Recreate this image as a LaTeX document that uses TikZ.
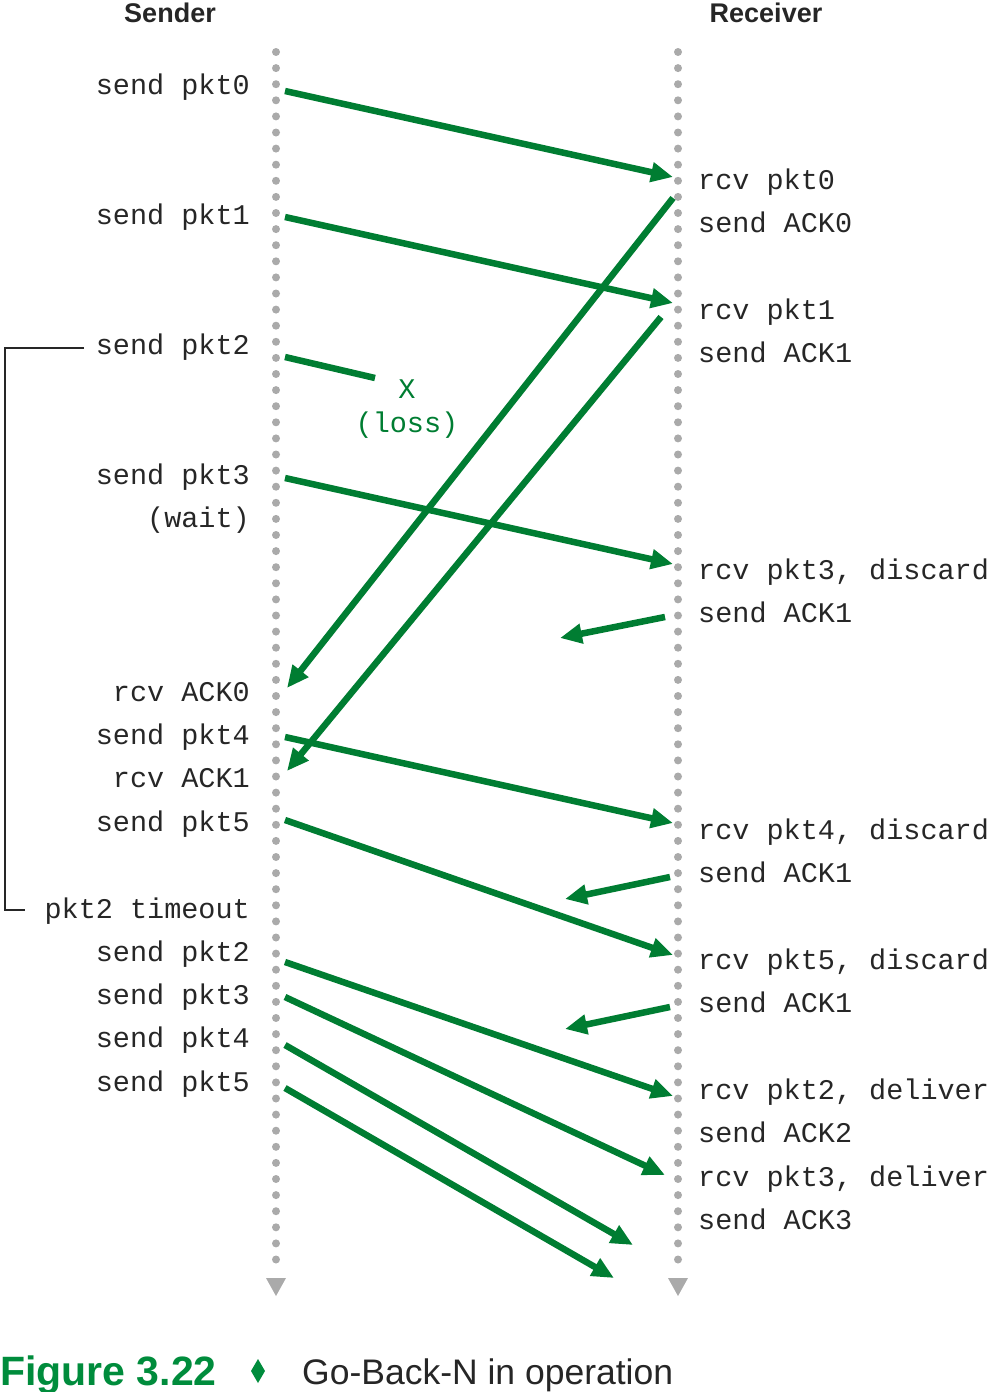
\documentclass[tikz,border=0pt]{standalone}
\usepackage{fontspec}
\setmainfont{Liberation Sans}
\newfontfamily\monof{Liberation Mono}
\usetikzlibrary{arrows.meta}
\definecolor{grn}{RGB}{0,125,50}
\definecolor{capgrn}{RGB}{0,140,60}
\definecolor{dotgray}{RGB}{170,170,170}
\begin{document}
\begin{tikzpicture}[x=1pt,y=-1pt,
  lbl/.style={font=\monof\fontsize{28.5}{30}\selectfont, inner sep=0pt, text=black!85},
  ll/.style={lbl, anchor=base east},
  rl/.style={lbl, anchor=base west},
  hdr/.style={font=\bfseries\fontsize{27}{28}\selectfont, inner sep=0pt, anchor=base, text=black!85},
  msg/.style={draw=grn, line width=6.5pt, -{Triangle[length=22pt,width=19pt]}},
  timeline/.style={dotgray, line width=8pt, line cap=round, dash pattern=on 0pt off 16.1pt},
  endtri/.style={fill=dotgray},
  bracket/.style={draw=black!85, line width=1.2pt}
]
\useasboundingbox (0,0) rectangle (992,1392);

% headers
\node[hdr] (hs) at (170,22) {Sender};
\node[hdr] (hr) at (766,22) {Receiver};

% timelines
\coordinate (st) at (276,52);
\coordinate (sb) at (276,1266);
\coordinate (rt) at (678,52);
\coordinate (rb) at (678,1266);
\draw[timeline] (st) -- (sb);
\draw[timeline] (rt) -- (rb);
\fill[endtri] (266,1278) -- (286,1278) -- (276,1296) -- cycle;
\fill[endtri] (668,1278) -- (688,1278) -- (678,1296) -- cycle;

% sender labels
\node[ll] (l1) at (250,94) {send pkt0};
\node[ll] (l2) at (250,224) {send pkt1};
\node[ll] (l3) at (250,354) {send pkt2};
\node[ll] (l4) at (250,484) {send pkt3};
\node[ll] (l5) at (250,527) {(wait)};
\node[ll] (l6) at (250,701) {rcv ACK0};
\node[ll] (l7) at (250,744) {send pkt4};
\node[ll] (l8) at (250,787) {rcv ACK1};
\node[ll] (l9) at (250,831) {send pkt5};
\node[ll] (l10) at (250,918) {pkt2 timeout};
\node[ll] (l11) at (250,961) {send pkt2};
\node[ll] (l12) at (250,1004) {send pkt3};
\node[ll] (l13) at (250,1047) {send pkt4};
\node[ll] (l14) at (250,1091) {send pkt5};

% receiver labels
\node[rl] (r1) at (698,189) {rcv pkt0};
\node[rl] (r2) at (698,232) {send ACK0};
\node[rl] (r3) at (698,319) {rcv pkt1};
\node[rl] (r4) at (698,362) {send ACK1};
\node[rl] (r5) at (698,579) {rcv pkt3, discard};
\node[rl] (r6) at (698,622) {send ACK1};
\node[rl] (r7) at (698,839) {rcv pkt4, discard};
\node[rl] (r8) at (698,882) {send ACK1};
\node[rl] (r9) at (698,969) {rcv pkt5, discard};
\node[rl] (r10) at (698,1012) {send ACK1};
\node[rl] (r11) at (698,1099) {rcv pkt2, deliver};
\node[rl] (r12) at (698,1142) {send ACK2};
\node[rl] (r13) at (698,1186) {rcv pkt3, deliver};
\node[rl] (r14) at (698,1229) {send ACK3};

% loss
\node[lbl, text=grn, anchor=base] (lx) at (407,398) {X};
\node[lbl, text=grn, anchor=base] (ll) at (407,432) {(loss)};

% bracket
\coordinate (b1) at (84,348);
\coordinate (b2) at (5,348);
\coordinate (b3) at (5,910);
\coordinate (b4) at (25,910);
\draw[bracket] (b1) -- (b2) -- (b3) -- (b4);

% message endpoints
\coordinate (a1s) at (285,91);   \coordinate (a1e) at (673,177);
\coordinate (a2s) at (285,217);  \coordinate (a2e) at (673,303);
\coordinate (a3s) at (285,357);  \coordinate (a3e) at (375,378);
\coordinate (a4s) at (673,198);  \coordinate (a4e) at (287,688);
\coordinate (a5s) at (661,317);  \coordinate (a5e) at (287,771);
\coordinate (a6s) at (285,478);  \coordinate (a6e) at (673,564);
\coordinate (a7s) at (665,617);  \coordinate (a7e) at (560,638);
\coordinate (a8s) at (285,737);  \coordinate (a8e) at (673,823);
\coordinate (a9s) at (285,820);  \coordinate (a9e) at (673,955);
\coordinate (a10s) at (670,877); \coordinate (a10e) at (565,899);
\coordinate (a11s) at (670,1007);\coordinate (a11e) at (565,1029);
\coordinate (a12s) at (285,962); \coordinate (a12e) at (673,1096);
\coordinate (a13s) at (285,997); \coordinate (a13e) at (665,1175);
\coordinate (a14s) at (285,1045);\coordinate (a14e) at (633,1245);
\coordinate (a15s) at (285,1088);\coordinate (a15e) at (614,1278);

\draw[msg] (a1s) -- (a1e);
\draw[msg] (a2s) -- (a2e);
\draw[msg, -] (a3s) -- (a3e);
\draw[msg] (a4s) -- (a4e);
\draw[msg] (a5s) -- (a5e);
\draw[msg] (a6s) -- (a6e);
\draw[msg] (a7s) -- (a7e);
\draw[msg] (a8s) -- (a8e);
\draw[msg] (a9s) -- (a9e);
\draw[msg] (a10s) -- (a10e);
\draw[msg] (a11s) -- (a11e);
\draw[msg] (a12s) -- (a12e);
\draw[msg] (a13s) -- (a13e);
\draw[msg] (a14s) -- (a14e);
\draw[msg] (a15s) -- (a15e);

% caption
\node[font=\bfseries\fontsize{41}{43}\selectfont, text=capgrn, anchor=base west, inner sep=0pt] (cf) at (0,1385) {Figure 3.22};
\fill[capgrn] (258,1359) -- (265,1371) -- (258,1383) -- (251,1371) -- cycle;
\node[font=\fontsize{35.5}{37}\selectfont, text=black!85, anchor=base west, inner sep=0pt] (ct) at (302,1384) {Go-Back-N in operation};
\end{tikzpicture}
\end{document}
